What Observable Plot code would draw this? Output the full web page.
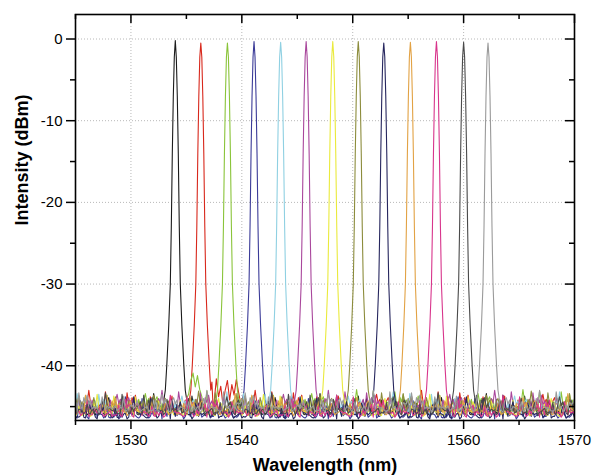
<!DOCTYPE html>
<html><head><meta charset="utf-8">
<script src="https://cdn.jsdelivr.net/npm/d3@7"></script>
<script src="https://cdn.jsdelivr.net/npm/@observablehq/plot@0.6"></script>
<style>html,body{margin:0;padding:0;background:#fff}</style>
</head><body><div id="chart"></div>
<script>
// ---- data ----
const channels = ["1","2","3","4","5","6","7","8","9","10","11","12","13"];
const centers = [1534.0, 1536.3, 1538.7, 1541.1, 1543.5, 1545.8, 1548.2, 1550.5, 1552.8, 1555.2, 1557.55, 1560.0, 1562.2];
const peakLevels = [-0.2, -0.5, -0.5, -0.3, -0.4, -0.3, -0.3, -0.3, -0.5, -0.4, -0.3, -0.4, -0.5];
const floorLevels = [-46.2, -45.8, -45.7, -46.6, -46.0, -45.8, -46.3, -45.9, -46.6, -46.2, -46.4, -46.1, -45.8];
const colors = ["#1b1b1b", "#d8281c", "#8ac43a", "#3b3b98", "#8fd0e2", "#a9479c", "#eaea3c", "#8c8c3c", "#26265e", "#e2a244", "#d8358c", "#4a4a4a", "#9a9a9a"];
// peak profile: offset from centre (nm) and level (dBm)
const profileOffsets = [-1.1, -0.9, -0.77, -0.59, -0.45, -0.36, -0.27, -0.18, -0.09, 0, 0.09, 0.18, 0.27, 0.36, 0.45, 0.59, 0.77, 0.9, 1.1];
const profileLevels  = [-44.8, -43, -40, -35, -30, -23, -14, -7, -2.2, null, -2.2, -7, -14, -23, -30, -35, -40, -43, -44.8];
// noise floor excursions above each channel floor (dB)
const noise = [0.4,1.2,0.2,0.9,1.7,0.5,1.0,0.1,1.4,0.6,2.5,0.3,0.8,1.1,0.2,1.6,0.4,0.9,0.6,1.9,0.3,0.2,1.3,0.7,0.4,2.2,0.8,0.5,1.0,0.1,0.7,1.5,0.3,0.9,0.5,1.8,0.2,0.8,1.2,0.4,0.6,2.8,0.3,0.7,1.3,0.5,0.1,0.9,1.6,0.4,0.8,0.3,2.0,0.6,0.2,1.1,0.7,1.4,0.4,0.5,2.3,0.9,0.3,1.2,0.6,0.2,1.7,0.8,0.4,1.0,0.5,2.6,0.3,0.7,1.2,0.1,0.9,0.6,1.5,0.3,0.8,1.9,0.5,0.2,1.1,0.7,0.4,1.6,0.6,1.0,0.3,2.1,0.5,0.8,0.2,1.3,0.7,0.4,1.1,0.6];
// side-lobe bumps seen on channel 2 (red) and channel 3 (green)
const redBumpWl = [1537.3,1537.5,1537.7,1537.9,1538.1,1538.3,1538.5,1538.7,1538.9,1539.1,1539.3,1539.5,1539.7,1539.9,1540.1];
const redBumpDb = [-42.0,-44.5,-41.6,-43.8,-42.5,-44.8,-43.0,-41.8,-44.2,-42.3,-43.6,-41.7,-43.2,-44.6,-43.8];
const greenBumpWl = [1535.2,1535.4,1535.6,1535.8,1536.0,1536.2,1536.4];
const greenBumpDb = [-43.5,-41.8,-40.9,-42.6,-41.2,-42.9,-43.8];
const xTicks = [1530, 1540, 1550, 1560, 1570];
const xMinor = [1525, 1535, 1545, 1555, 1565];
const yTicks = [0, -10, -20, -30, -40];
const yMinor = [-5, -15, -25, -35, -45];
const xLabel = "Wavelength (nm)";
const yLabel = "Intensity (dBm)";

// ---- build table ----
const grid = d3.range(0, 301).map(j => 1525 + j * 0.15);
const bumps = {"2": [redBumpWl, redBumpDb], "3": [greenBumpWl, greenBumpDb]};
const rows = [];
channels.forEach((ch, c) => {
  const pts = [];
  const b = bumps[ch];
  grid.forEach((wl, j) => {
    if (Math.abs(wl - centers[c]) <= 1.1) return;
    if (b && wl >= b[0][0] - 0.05 && wl <= b[0][b[0].length - 1] + 0.05) return;
    pts.push({ch, wl, db: floorLevels[c] + noise[(j * 3 + c * 17) % noise.length]});
  });
  profileOffsets.forEach((o, k) => {
    pts.push({ch, wl: centers[c] + o, db: profileLevels[k] == null ? peakLevels[c] : profileLevels[k]});
  });
  if (b) b[0].forEach((wl, k) => pts.push({ch, wl, db: b[1][k]}));
  pts.sort((a, d) => a.wl - d.wl);
  rows.push(...pts);
});

const W = 592, H = 475, mL = 75, mR = 18, mT = 14, mB = 55;
const fw = W - mL - mR, fh = H - mT - mB;
const fmt = d => String(d);

const chart = Plot.plot({
  width: W, height: H,
  marginLeft: mL, marginRight: mR, marginTop: mT, marginBottom: mB,
  style: {fontFamily: "'Liberation Sans', Arial, sans-serif", fontSize: "15px", color: "#000", background: "#fff"},
  x: {domain: [1525, 1570]},
  y: {domain: [-46.7, 3]},
  color: {domain: channels, range: colors},
  marks: [
    Plot.gridX(xTicks.slice(0, 4), {stroke: "#b8b8b8", strokeOpacity: 1, strokeDasharray: "1,2", strokeWidth: 1}),
    Plot.gridY(yTicks, {stroke: "#b8b8b8", strokeOpacity: 1, strokeDasharray: "1,2", strokeWidth: 1}),
    Plot.line(rows, {x: "wl", y: "db", z: "ch", stroke: "ch", strokeWidth: 1.1, clip: true}),
    Plot.frame({stroke: "#000", strokeWidth: 1.6}),
    Plot.axisX(xTicks, {anchor: "bottom", tickSize: 9, tickPadding: 5, fontSize: 15, label: null, strokeWidth: 1.5, tickFormat: fmt}),
    Plot.ruleX(xMinor, {insetTop: fh, insetBottom: -5, strokeWidth: 1.5}),
    Plot.ruleX(xTicks, {insetBottom: fh - 9, strokeWidth: 1.5}),
    Plot.ruleX(xMinor, {insetBottom: fh - 5, strokeWidth: 1.5}),
    Plot.axisY(yTicks, {anchor: "left", tickSize: 9, tickPadding: 4, fontSize: 15, label: null, strokeWidth: 1.5, tickFormat: fmt}),
    Plot.ruleY(yMinor, {insetRight: fw, insetLeft: -5, strokeWidth: 1.5}),
    Plot.ruleY(yTicks, {insetLeft: fw - 9, strokeWidth: 1.5}),
    Plot.ruleY(yMinor, {insetLeft: fw - 5, strokeWidth: 1.5}),
    Plot.text([xLabel], {frameAnchor: "bottom", dy: 45, lineAnchor: "middle", fontSize: 18, fontWeight: "bold", text: d => d}),
    Plot.text([yLabel], {frameAnchor: "left", dx: -53, dy: 8, rotate: -90, lineAnchor: "middle", fontSize: 18, fontWeight: "bold", text: d => d})
  ]
});
document.getElementById("chart").appendChild(chart);
</script>
</body></html>
